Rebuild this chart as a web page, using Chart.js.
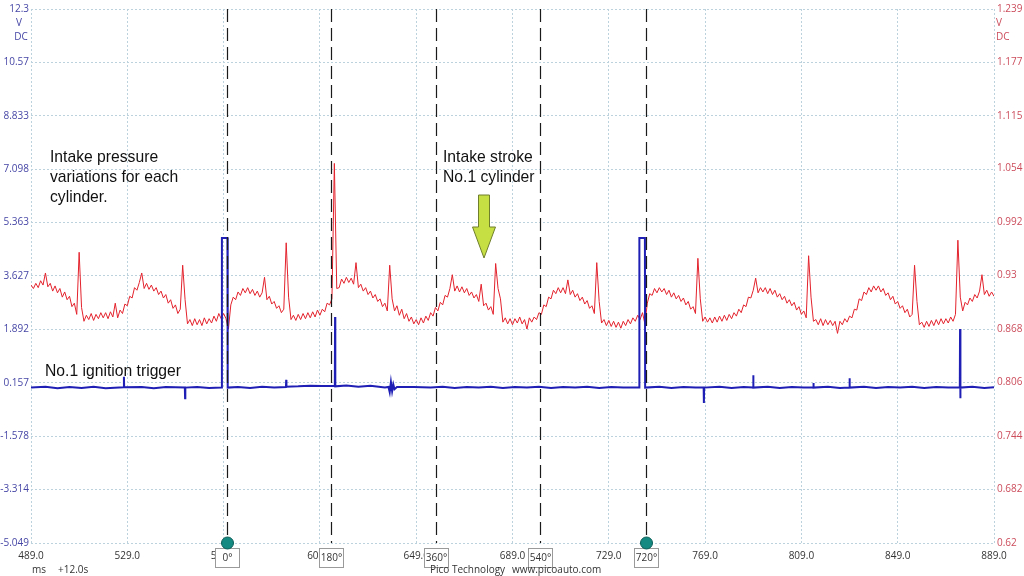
<!DOCTYPE html>
<html><head><meta charset="utf-8">
<script src="https://cdn.jsdelivr.net/npm/chart.js@4/dist/chart.umd.min.js"></script>
<style>html,body{margin:0;padding:0;background:#fff;overflow:hidden}#wrap{width:1024px;height:576px;position:relative}canvas{display:block}</style>
</head><body><div id="wrap"><canvas id="c" width="1024" height="576"></canvas></div>
<script>
// ---- data ----
const redStartMs = 489;   // red channel sampled every 1 ms
const redStepMs = 1;
const redVolts = [
0.919,0.915,0.921,0.916,0.924,0.919,0.933,0.917,0.921,0.912,
0.918,0.910,0.915,0.905,0.911,0.902,0.906,0.894,0.898,0.885,
0.957,0.893,0.877,0.884,0.879,0.886,0.878,0.885,0.880,0.887,
0.881,0.887,0.880,0.888,0.882,0.898,0.881,0.890,0.886,0.897,
0.895,0.906,0.904,0.916,0.913,0.922,0.933,0.915,0.921,0.914,
0.919,0.912,0.916,0.908,0.912,0.904,0.908,0.898,0.902,0.892,
0.896,0.886,0.891,0.942,0.902,0.874,0.879,0.872,0.880,0.873,
0.879,0.872,0.881,0.874,0.880,0.875,0.883,0.877,0.886,0.880,
0.886,0.880,0.868,0.896,0.905,0.902,0.911,0.907,0.915,0.910,
0.916,0.909,0.914,0.907,0.912,0.905,0.910,0.928,0.902,0.906,
0.897,0.900,0.892,0.895,0.887,0.891,0.968,0.905,0.879,0.884,
0.878,0.885,0.879,0.886,0.880,0.887,0.881,0.888,0.882,0.890,
0.884,0.891,0.888,0.898,0.896,0.903,1.060,0.915,0.916,0.926,
0.921,0.928,0.922,0.927,0.920,0.945,0.916,0.920,0.912,0.916,
0.908,0.912,0.904,0.908,0.900,0.903,0.894,0.898,0.889,0.942,
0.903,0.889,0.895,0.884,0.891,0.880,0.886,0.877,0.882,0.874,
0.879,0.873,0.881,0.875,0.883,0.878,0.887,0.883,0.893,0.889,
0.899,0.896,0.907,0.905,0.915,0.931,0.912,0.918,0.911,0.917,
0.910,0.915,0.907,0.911,0.904,0.908,0.900,0.920,0.895,0.898,
0.890,0.894,0.885,0.944,0.915,0.903,0.876,0.881,0.874,0.880,
0.873,0.880,0.875,0.882,0.874,0.879,0.868,0.881,0.876,0.882,
0.879,0.887,0.885,0.896,0.894,0.905,0.903,0.913,0.909,0.916,
0.910,0.916,0.909,0.925,0.908,0.913,0.905,0.909,0.901,0.905,
0.897,0.901,0.892,0.895,0.886,0.945,0.900,0.875,0.879,0.872,
0.878,0.871,0.877,0.870,0.876,0.869,0.877,0.872,0.879,0.874,
0.881,0.877,0.884,0.879,0.887,0.874,0.898,0.909,0.907,0.915,
0.910,0.916,0.911,0.915,0.908,0.913,0.905,0.910,0.903,0.907,
0.900,0.904,0.896,0.900,0.891,0.894,0.886,0.950,0.903,0.877,
0.882,0.876,0.881,0.875,0.882,0.876,0.883,0.877,0.884,0.878,
0.885,0.880,0.887,0.883,0.891,0.887,0.896,0.894,0.905,0.904,
0.913,0.927,0.910,0.916,0.911,0.916,0.909,0.915,0.908,0.913,
0.905,0.909,0.902,0.906,0.898,0.902,0.895,0.899,0.890,0.894,
0.885,0.889,0.881,0.953,0.905,0.877,0.879,0.873,0.880,0.872,
0.879,0.873,0.878,0.872,0.877,0.863,0.877,0.873,0.880,0.876,
0.883,0.881,0.891,0.890,0.903,0.901,0.911,0.908,0.916,0.911,
0.918,0.913,0.918,0.911,0.915,0.907,0.910,0.902,0.906,0.897,
0.900,0.892,0.895,0.887,0.891,0.882,0.885,0.942,0.900,0.873,
0.876,0.870,0.877,0.871,0.878,0.872,0.879,0.873,0.880,0.874,
0.880,0.875,0.882,0.877,0.885,0.971,0.905,0.889,0.899,0.896,
0.904,0.900,0.908,0.904,0.912,0.931,0.908,0.913,0.906,0.911,
0.906
];
const blueTimes = [
489,495,500,505,510,515,520,527.5,527.6,527.7,
535,540,545,552.9,553,553.1,558,563,568.2,568.3,
570.6,570.7,575,580,585,590,594.9,595,595.1,600,
605,610,615.2,615.3,615.4,620,625,630,636,637.5,
638,638.5,639,639.5,640,641,648,655,660,665,
670,675,680,685,690,695,700,705,710,715,
720,725,730,735,741.6,741.7,744.0,744.1,750,755,
760,765,768.4,768.5,768.6,775,780,785,788.9,789,
789.1,795,800,805,810,813.9,814,814.1,820,825,
828.9,829,829.1,835,840,845,850,855,860,865,
870,874.8,874.9,875.0,875.1,880,885,889
];
const blueVolts = [
0.00,0.03,-0.02,0.02,-0.01,0.03,-0.02,0.01,0.35,0.01,
0.02,-0.02,0.02,0.00,-0.35,0.00,0.02,-0.01,0.00,4.86,
4.86,0.00,0.02,-0.01,0.03,0.00,0.02,0.25,0.03,0.04,
0.06,0.05,0.05,2.29,0.04,0.07,0.03,0.06,0.00,0.02,
-0.15,0.18,-0.12,0.10,-0.05,0.02,0.02,0.00,0.03,-0.01,
0.02,0.00,0.03,-0.01,0.02,0.00,0.03,-0.01,0.02,0.00,
0.03,-0.01,0.02,0.00,0.00,4.86,4.86,0.00,0.03,-0.01,
0.02,0.00,0.00,-0.50,0.00,0.03,-0.01,0.02,0.00,0.40,
0.00,0.03,-0.01,0.02,0.00,0.00,0.15,0.00,0.03,-0.01,
0.00,0.30,0.00,0.03,-0.01,0.02,0.00,0.03,-0.01,0.02,
0.00,0.00,1.90,-0.35,0.00,0.03,-0.01,0.01
];
const xTicks = [489,529,569,609,649,689,729,769,809,849,889];
const leftTicks = [-5.049,-3.314,-1.578,0.157,1.892,3.627,5.363,7.098,8.833,10.57,12.3];
const rightTicks = [0.62,0.682,0.744,0.806,0.868,0.93,0.992,1.054,1.115,1.177,1.239];
const cursorMs = [570.6,613.8,657.3,700.5,744.3];
const cursorLabels = ['0°','180°','360°','540°','720°'];
const cursorDots = [true,false,false,false,true];
const noteLeft = ['Intake pressure','variations for each','cylinder.'];
const noteStroke = ['Intake stroke','No.1 cylinder'];
const noteTrigger = 'No.1 ignition trigger';

// ---- build ----
const redData = redVolts.map((v,i)=>({x: redStartMs + i*redStepMs, y: v}));
const blueData = blueTimes.map((t,i)=>({x: t, y: blueVolts[i]}));
const AX_FONT = {family:'Open Sans', size:10};
const GRID = '#bcd3de';

const overlay = {
  id:'overlay',
  afterDraw(chart){
    const {ctx, chartArea:a, scales:{x}} = chart;
    ctx.save();
    // cursor lines
    ctx.strokeStyle = '#1a1a1a'; ctx.lineWidth = 1.2; ctx.setLineDash([13,6]);
    const pxs = cursorMs.map(ms => Math.round(x.getPixelForValue(ms)) + 0.5);
    pxs.forEach(px => { ctx.beginPath(); ctx.moveTo(px, a.top); ctx.lineTo(px, a.bottom); ctx.stroke(); });
    ctx.setLineDash([]);
    // cursor label boxes
    ctx.font = '10px "Open Sans"'; ctx.textAlign = 'center'; ctx.textBaseline = 'middle';
    pxs.forEach((px,i) => {
      ctx.fillStyle = '#fff'; ctx.fillRect(px-12, a.bottom+5, 24, 19);
      ctx.strokeStyle = '#9a9a9a'; ctx.lineWidth = 1; ctx.strokeRect(px-12, a.bottom+5.5, 24, 19);
      ctx.fillStyle = '#333'; ctx.fillText(cursorLabels[i], px, a.bottom+15);
    });
    // dots
    pxs.forEach((px,i) => {
      if (!cursorDots[i]) return;
      ctx.beginPath(); ctx.arc(px, a.bottom, 6, 0, Math.PI*2);
      ctx.fillStyle = '#158a82'; ctx.fill();
      ctx.strokeStyle = '#0d5e58'; ctx.lineWidth = 1; ctx.stroke();
    });
    // unit labels
    ctx.font = '10px "Open Sans"'; ctx.textBaseline = 'middle';
    ctx.fillStyle = '#4646a6'; ctx.textAlign = 'center';
    ctx.fillText('V', 19, 23); ctx.fillText('DC', 21, 37);
    ctx.fillStyle = '#cc4d5c'; ctx.textAlign = 'left';
    ctx.fillText('V', 996, 23); ctx.fillText('DC', 996, 37);
    // bottom texts
    ctx.fillStyle = '#333'; ctx.textAlign = 'left';
    ctx.fillText('ms', 32, 570); ctx.fillText('+12.0s', 58, 570);
    ctx.fillText('Pico Technology', 430, 570); ctx.fillText('www.picoauto.com', 512, 570);
    // annotations
    ctx.fillStyle = '#111'; ctx.font = '15.7px "Liberation Sans", Arial'; ctx.textAlign = 'left';
    noteLeft.forEach((t,i) => ctx.fillText(t, 50, 158 + i*20));
    noteStroke.forEach((t,i) => ctx.fillText(t, 443, 158 + i*19.5));
    ctx.fillText(noteTrigger, 45, 372);
    // arrow
    ctx.beginPath();
    ctx.moveTo(478.5,195); ctx.lineTo(489.5,195); ctx.lineTo(489.5,227); ctx.lineTo(495.5,227);
    ctx.lineTo(484,258); ctx.lineTo(472.5,227); ctx.lineTo(478.5,227); ctx.closePath();
    ctx.fillStyle = '#c6df43'; ctx.fill();
    ctx.strokeStyle = '#6f7f2c'; ctx.lineWidth = 1; ctx.stroke();
    ctx.restore();
  }
};

new Chart(document.getElementById('c'), {
  type: 'line',
  data: { datasets: [
    { label:'Channel A', data: blueData, yAxisID:'yL', borderColor:'#1f1fb5', borderWidth:2, pointRadius:0, tension:0 },
    { label:'Channel B', data: redData, yAxisID:'yR', borderColor:'#e3222c', borderWidth:1, pointRadius:0, tension:0 }
  ]},
  options: {
    responsive:false, animation:false, devicePixelRatio:1,
    layout:{ padding:{ top:9, left:0, right:0, bottom:0 } },
    plugins:{ legend:{display:false}, tooltip:{enabled:false} },
    scales:{
      x:{ type:'linear', min:xTicks[0], max:xTicks[xTicks.length-1],
        afterBuildTicks: s => { s.ticks = xTicks.map(v=>({value:v})); },
        ticks:{ callback: v => Number(v).toFixed(1), color:'#333', font:AX_FONT, padding:7, maxRotation:0, autoSkip:false },
        grid:{ color:GRID, drawTicks:false }, border:{ display:false, dash:[2,2] },
        afterFit: s => { s.height = 33; } },
      yL:{ type:'linear', position:'left', min:leftTicks[0], max:leftTicks[leftTicks.length-1],
        afterBuildTicks: s => { s.ticks = leftTicks.map(v=>({value:v})); },
        ticks:{ callback: v => String(v), color:'#4646a6', font:AX_FONT, padding:2, autoSkip:false },
        grid:{ color:GRID, drawTicks:false }, border:{ display:false, dash:[2,2] },
        afterFit: s => { s.width = 31; } },
      yR:{ type:'linear', position:'right', min:rightTicks[0], max:rightTicks[rightTicks.length-1],
        afterBuildTicks: s => { s.ticks = rightTicks.map(v=>({value:v})); },
        ticks:{ callback: v => String(v), color:'#cc4d5c', font:AX_FONT, padding:3, autoSkip:false },
        grid:{ drawOnChartArea:false, drawTicks:false }, border:{ display:false },
        afterFit: s => { s.width = 30; } }
    }
  },
  plugins:[overlay]
});
</script></body></html>
